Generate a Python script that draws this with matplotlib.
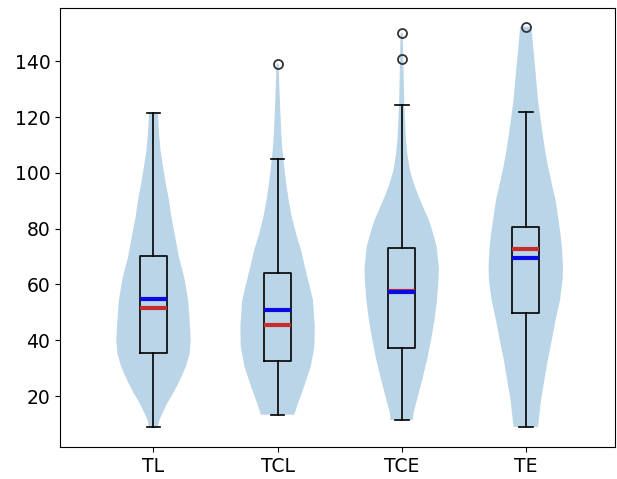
import matplotlib
matplotlib.use("Agg")
import matplotlib.pyplot as plt
import numpy as np

labels = ["TL", "TCL", "TCE", "TE"]
positions = [1, 2, 3, 4]

# box statistics
q1 = [35.3, 32.7, 37.1, 49.6]
q3 = [70.2, 64.2, 72.9, 80.5]
medians = [51.7, 45.6, 57.5, 72.6]
means = [54.7, 50.7, 57.3, 69.6]
whislo = [8.8, 13.3, 11.4, 8.9]
whishi = [121.3, 104.9, 124.2, 121.8]
fliers = [[], [139.2], [140.7, 150.2], [152.4]]

# violin outlines (value, relative density)
tl_coords = [8.8, 9.0, 11.4, 13.8, 17.4, 21.0, 25.7, 30.5, 35.3, 40.1, 47.2, 54.4, 61.6,
             66.0, 70.0, 78.0, 84.3, 90.0, 96.2, 102.0, 108.0, 114.0, 121.3]
tl_dens = [0.11, 0.12, 0.16, 0.24, 0.37, 0.53, 0.71, 0.87, 0.97, 1.0, 0.97, 0.93, 0.84,
           0.76, 0.68, 0.57, 0.48, 0.42, 0.33, 0.26, 0.19, 0.15, 0.12]
tcl_coords = [13.3, 13.8, 17.4, 23.3, 30.5, 37.7, 44.8, 54.4, 61.6, 66.0, 72.3, 78.0,
              84.3, 90.0, 96.2, 102.0, 108.2, 114.0, 120.1, 132.0, 139.2]
tcl_dens = [0.45, 0.46, 0.55, 0.71, 0.89, 0.99, 1.0, 0.95, 0.82, 0.74, 0.63, 0.50,
            0.38, 0.30, 0.23, 0.18, 0.13, 0.10, 0.08, 0.045, 0.03]
tce_coords = [11.4, 14.0, 18.6, 25.7, 32.9, 40.1, 47.2, 54.4, 61.6, 66.0, 73.5, 78.0,
              83.1, 87.0, 91.4, 96.0, 101.0, 107.0, 112.9, 124.9, 136.8, 150.2]
tce_dens = [0.30, 0.32, 0.41, 0.55, 0.68, 0.79, 0.88, 0.95, 0.99, 1.0, 0.94, 0.85,
            0.73, 0.60, 0.46, 0.33, 0.22, 0.15, 0.11, 0.07, 0.05, 0.03]
te_coords = [8.9, 10.2, 18.6, 25.7, 32.9, 40.1, 47.2, 54.4, 61.6, 66.0, 72.0, 78.3,
             84.0, 90.3, 96.0, 102.2, 108.0, 114.2, 120.0, 126.1, 132.0, 138.0, 145.0, 152.4]
te_dens = [0.33, 0.34, 0.41, 0.50, 0.59, 0.70, 0.80, 0.92, 0.99, 1.0, 0.98, 0.93,
           0.87, 0.80, 0.70, 0.60, 0.52, 0.45, 0.39, 0.33, 0.29, 0.25, 0.20, 0.15]

violin_coords = [tl_coords, tcl_coords, tce_coords, te_coords]
violin_dens = [tl_dens, tcl_dens, tce_dens, te_dens]

fig = plt.figure(figsize=(6.17, 4.79), dpi=100)
ax = fig.add_axes([60 / 617, 1 - 447 / 479, 555 / 617, 439 / 479])

vpstats = []
for c, d, mn, md in zip(violin_coords, violin_dens, means, medians):
    c = np.array(c)
    vpstats.append(dict(coords=c, vals=np.array(d), mean=mn, median=md,
                        min=c.min(), max=c.max()))
parts = ax.violin(vpstats, positions=positions, widths=0.6, showextrema=False)
for b in parts["bodies"]:
    b.set_facecolor("#1f77b4")
    b.set_edgecolor("none")
    b.set_alpha(0.3)

bstats = []
for i in range(4):
    bstats.append(dict(med=medians[i], q1=q1[i], q3=q3[i], whislo=whislo[i],
                       whishi=whishi[i], fliers=fliers[i], mean=means[i], label=labels[i]))
ax.bxp(bstats, positions=positions, widths=0.22, showmeans=True, meanline=True,
       boxprops=dict(color="black", linewidth=1.2),
       whiskerprops=dict(color="black", linewidth=1.2),
       capprops=dict(color="black", linewidth=1.2),
       medianprops=dict(color="#c62d2d", linewidth=3),
       meanprops=dict(color="#0a0ae6", linestyle="-", linewidth=3),
       flierprops=dict(marker="o", markerfacecolor="none", markeredgecolor="#333333",
                       markersize=6.5, markeredgewidth=1.3))

ax.set_xlim(0.2466, 4.719)
ax.set_ylim(1.72, 159.1)
ax.set_xticks(positions)
ax.set_xticklabels(labels)
ax.set_yticks([20, 40, 60, 80, 100, 120, 140])
ax.tick_params(labelsize=13.5)

fig.savefig("out.png", dpi=100)
